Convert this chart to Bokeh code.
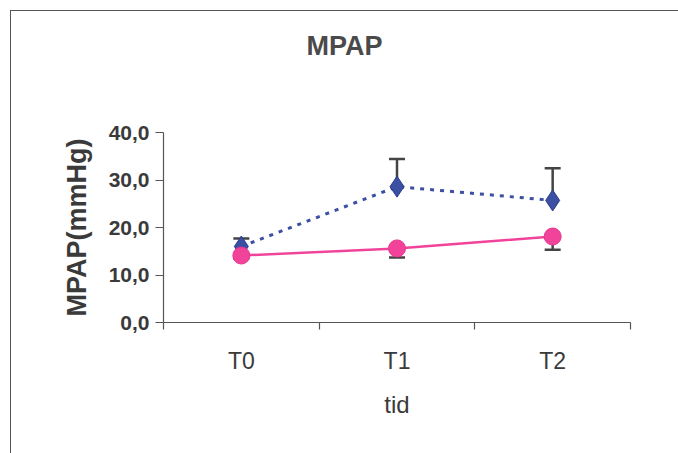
from bokeh.plotting import figure
from bokeh.models import FixedTicker, Range1d, Whisker, ColumnDataSource, Title
from bokeh.embed import file_html
from bokeh.resources import INLINE

title_text = "MPAP"
categories = ["T0", "T1", "T2"]
series_a = [16.0, 28.6, 25.7]          # blue, dotted
series_a_upper = [17.7, 34.4, 32.5]
series_b = [14.1, 15.6, 18.1]          # pink, solid
series_b_lower = [13.5, 13.7, 15.3]
y_ticks = [0, 10, 20, 30, 40]
y_tick_labels = ["0,0", "10,0", "20,0", "30,0", "40,0"]

x = [i + 0.5 for i in range(len(categories))]
FONT = "Liberation Sans"
TXT = "#3a3a3a"

p = figure(width=668, height=443, output_backend="svg", toolbar_location=None,
           x_range=Range1d(0, len(categories)), y_range=Range1d(0, 40),
           min_border_left=152, min_border_right=49, min_border_top=121, min_border_bottom=132,
           margin=(10, 0, 0, 10),
           styles={"border-top": "1px solid #555", "border-left": "1px solid #555"})
p.outline_line_color = None
p.xgrid.grid_line_color = None
p.ygrid.grid_line_color = None

# x axis
xa = p.xaxis[0]
xa.ticker = FixedTicker(ticks=x, minor_ticks=list(range(len(categories) + 1)))
xa.major_label_overrides = {xi: c for xi, c in zip(x, categories)}
xa.major_tick_out = 0
xa.major_tick_in = 0
xa.minor_tick_out = 7
xa.minor_tick_in = 0
xa.minor_tick_line_color = "#555"
xa.minor_tick_line_width = 1.2
xa.axis_line_color = "#555"
xa.axis_line_width = 1.2
xa.major_label_text_font = FONT
xa.major_label_text_font_size = "23px"
xa.major_label_text_color = TXT
xa.major_label_standoff = 18
xa.axis_label = "tid"
xa.axis_label_text_font = FONT
xa.axis_label_text_font_style = "normal"
xa.axis_label_text_font_size = "24px"
xa.axis_label_text_color = TXT
xa.axis_label_standoff = 14

# y axis
ya = p.yaxis[0]
ya.ticker = FixedTicker(ticks=y_ticks, minor_ticks=[])
ya.major_label_overrides = {t: l for t, l in zip(y_ticks, y_tick_labels)}
ya.major_tick_out = 8
ya.major_tick_in = 0
ya.major_tick_line_color = "#555"
ya.major_tick_line_width = 1.2
ya.axis_line_color = "#555"
ya.axis_line_width = 1.2
ya.major_label_text_font = FONT
ya.major_label_text_font_style = "bold"
ya.major_label_text_font_size = "21px"
ya.major_label_text_color = TXT
ya.major_label_standoff = 6
ya.axis_label = "MPAP(mmHg)"
ya.axis_label_text_font = FONT
ya.axis_label_text_font_style = "bold"
ya.axis_label_text_font_size = "27px"
ya.axis_label_text_color = TXT
ya.axis_label_standoff = 14

src_a = ColumnDataSource(dict(x=x, y=series_a, up=series_a_upper))
src_b = ColumnDataSource(dict(x=x, y=series_b, lo=series_b_lower))

wa = Whisker(source=src_a, base="x", lower="y", upper="up", dimension="height",
             line_color="#444", line_width=2.5, lower_head=None)
wa.upper_head.size = 16
wa.upper_head.line_color = "#444"
wa.upper_head.line_width = 2.5
p.add_layout(wa)

wb = Whisker(source=src_b, base="x", lower="lo", upper="y", dimension="height",
             line_color="#444", line_width=2.5, upper_head=None)
wb.lower_head.size = 16
wb.lower_head.line_color = "#444"
wb.lower_head.line_width = 2.5
p.add_layout(wb)

p.line("x", "y", source=src_a, line_color="#3b4fa3", line_width=3, line_dash="4 6")
p.scatter("x", "y", source=src_a, marker="diamond", size=21, fill_color="#3b4fa3",
          line_color="#2d3d8a", line_width=1)

p.line("x", "y", source=src_b, line_color="#f2439b", line_width=2.5)
p.scatter("x", "y", source=src_b, marker="circle", size=17, fill_color="#f2439b",
          line_color="#e8358f", line_width=1)

spacer = Title(text=" ", text_font_size="1px", standoff=69)
t = Title(text=title_text, align="left", offset=143,
          text_font=FONT, text_font_size="27px",
          text_font_style="bold", text_color="#4a4a4a", standoff=0)
p.above = [spacer, t]

open("out.html", "w").write(file_html(p, INLINE))
